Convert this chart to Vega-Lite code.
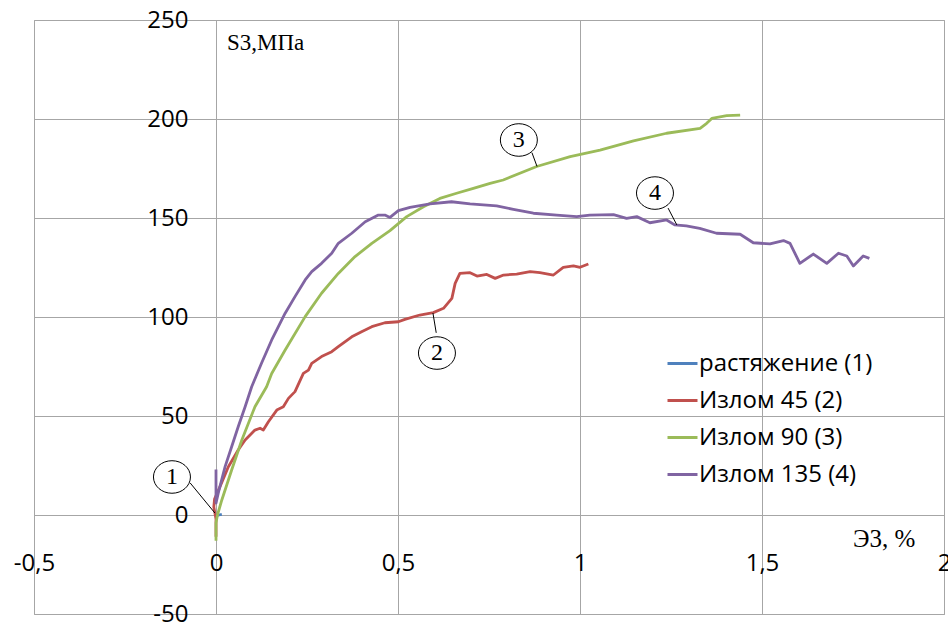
{
  "$schema": "https://vega.github.io/schema/vega-lite/v6.json",
  "width": 910,
  "height": 594,
  "autosize": {"type": "none"},
  "padding": {"left": 34, "top": 20, "right": 4, "bottom": 14},
  "background": "white",
  "config": {
    "view": {"stroke": "#a6a6a6", "strokeWidth": 1},
    "axis": {"gridColor": "#a6a6a6", "gridWidth": 1, "gridOpacity": 1}
  },
  "datasets": {
    "curves": [
      {"s": "растяжение (1)", "x": 0, "y": 0},
      {"s": "растяжение (1)", "x": 0.008, "y": 0},
      {"s": "растяжение (1)", "x": 0.016, "y": 0.3},

      {"s": "Излом 45 (2)", "x": 0, "y": -11},
      {"s": "Излом 45 (2)", "x": 0, "y": -2},
      {"s": "Излом 45 (2)", "x": -0.006, "y": 4},
      {"s": "Излом 45 (2)", "x": -0.004, "y": 8},
      {"s": "Излом 45 (2)", "x": 0.011, "y": 14.3},
      {"s": "Излом 45 (2)", "x": 0.034, "y": 24.4},
      {"s": "Излом 45 (2)", "x": 0.061, "y": 32.8},
      {"s": "Излом 45 (2)", "x": 0.08, "y": 37.9},
      {"s": "Излом 45 (2)", "x": 0.107, "y": 42.9},
      {"s": "Излом 45 (2)", "x": 0.121, "y": 43.8},
      {"s": "Излом 45 (2)", "x": 0.13, "y": 42.9},
      {"s": "Излом 45 (2)", "x": 0.144, "y": 47.1},
      {"s": "Излом 45 (2)", "x": 0.167, "y": 53},
      {"s": "Излом 45 (2)", "x": 0.185, "y": 54.7},
      {"s": "Излом 45 (2)", "x": 0.199, "y": 58.9},
      {"s": "Излом 45 (2)", "x": 0.217, "y": 62.3},
      {"s": "Излом 45 (2)", "x": 0.24, "y": 71.5},
      {"s": "Излом 45 (2)", "x": 0.254, "y": 73.2},
      {"s": "Излом 45 (2)", "x": 0.263, "y": 76.6},
      {"s": "Излом 45 (2)", "x": 0.29, "y": 80},
      {"s": "Излом 45 (2)", "x": 0.318, "y": 82.5},
      {"s": "Излом 45 (2)", "x": 0.336, "y": 85},
      {"s": "Излом 45 (2)", "x": 0.373, "y": 90},
      {"s": "Излом 45 (2)", "x": 0.4, "y": 92.6},
      {"s": "Излом 45 (2)", "x": 0.428, "y": 95.1},
      {"s": "Излом 45 (2)", "x": 0.464, "y": 97.1},
      {"s": "Излом 45 (2)", "x": 0.501, "y": 97.6},
      {"s": "Излом 45 (2)", "x": 0.519, "y": 98.8},
      {"s": "Излом 45 (2)", "x": 0.56, "y": 101},
      {"s": "Излом 45 (2)", "x": 0.597, "y": 102.2},
      {"s": "Излом 45 (2)", "x": 0.625, "y": 104.4},
      {"s": "Излом 45 (2)", "x": 0.648, "y": 109.4},
      {"s": "Излом 45 (2)", "x": 0.657, "y": 117},
      {"s": "Излом 45 (2)", "x": 0.67, "y": 122},
      {"s": "Излом 45 (2)", "x": 0.698, "y": 122.4},
      {"s": "Излом 45 (2)", "x": 0.717, "y": 120.7},
      {"s": "Излом 45 (2)", "x": 0.744, "y": 121.5},
      {"s": "Излом 45 (2)", "x": 0.767, "y": 119.5},
      {"s": "Излом 45 (2)", "x": 0.79, "y": 121.2},
      {"s": "Излом 45 (2)", "x": 0.826, "y": 121.7},
      {"s": "Излом 45 (2)", "x": 0.863, "y": 122.9},
      {"s": "Излом 45 (2)", "x": 0.89, "y": 122.4},
      {"s": "Излом 45 (2)", "x": 0.927, "y": 121.2},
      {"s": "Излом 45 (2)", "x": 0.954, "y": 125.1},
      {"s": "Излом 45 (2)", "x": 0.982, "y": 125.8},
      {"s": "Излом 45 (2)", "x": 1.0, "y": 125.1},
      {"s": "Излом 45 (2)", "x": 1.023, "y": 126.8},

      {"s": "Излом 90 (3)", "x": 0, "y": -13},
      {"s": "Излом 90 (3)", "x": 0, "y": -4},
      {"s": "Излом 90 (3)", "x": 0.004, "y": 0},
      {"s": "Излом 90 (3)", "x": 0.016, "y": 7.6},
      {"s": "Излом 90 (3)", "x": 0.043, "y": 22.7},
      {"s": "Излом 90 (3)", "x": 0.071, "y": 37.9},
      {"s": "Излом 90 (3)", "x": 0.107, "y": 54.7},
      {"s": "Излом 90 (3)", "x": 0.139, "y": 64.8},
      {"s": "Излом 90 (3)", "x": 0.153, "y": 71.5},
      {"s": "Излом 90 (3)", "x": 0.19, "y": 83.3},
      {"s": "Излом 90 (3)", "x": 0.245, "y": 100.2},
      {"s": "Излом 90 (3)", "x": 0.29, "y": 112},
      {"s": "Излом 90 (3)", "x": 0.336, "y": 122},
      {"s": "Излом 90 (3)", "x": 0.382, "y": 130.5},
      {"s": "Излом 90 (3)", "x": 0.428, "y": 137.2},
      {"s": "Излом 90 (3)", "x": 0.478, "y": 143.6},
      {"s": "Излом 90 (3)", "x": 0.524, "y": 150.7},
      {"s": "Излом 90 (3)", "x": 0.57, "y": 155.7},
      {"s": "Излом 90 (3)", "x": 0.615, "y": 159.9},
      {"s": "Излом 90 (3)", "x": 0.661, "y": 162.5},
      {"s": "Излом 90 (3)", "x": 0.707, "y": 165},
      {"s": "Излом 90 (3)", "x": 0.753, "y": 167.5},
      {"s": "Излом 90 (3)", "x": 0.789, "y": 169.2},
      {"s": "Излом 90 (3)", "x": 0.881, "y": 176},
      {"s": "Излом 90 (3)", "x": 0.973, "y": 181},
      {"s": "Излом 90 (3)", "x": 1.055, "y": 184.3},
      {"s": "Излом 90 (3)", "x": 1.147, "y": 189},
      {"s": "Излом 90 (3)", "x": 1.238, "y": 192.8},
      {"s": "Излом 90 (3)", "x": 1.33, "y": 195.3},
      {"s": "Излом 90 (3)", "x": 1.348, "y": 197.8},
      {"s": "Излом 90 (3)", "x": 1.362, "y": 200.3},
      {"s": "Излом 90 (3)", "x": 1.403, "y": 201.7},
      {"s": "Излом 90 (3)", "x": 1.44, "y": 202},

      {"s": "Излом 135 (4)", "x": 0, "y": 23},
      {"s": "Излом 135 (4)", "x": 0, "y": 6},
      {"s": "Излом 135 (4)", "x": 0.006, "y": 10.9},
      {"s": "Излом 135 (4)", "x": 0.025, "y": 24.4},
      {"s": "Излом 135 (4)", "x": 0.043, "y": 34.5},
      {"s": "Излом 135 (4)", "x": 0.061, "y": 44.6},
      {"s": "Излом 135 (4)", "x": 0.08, "y": 54.7},
      {"s": "Излом 135 (4)", "x": 0.098, "y": 64.8},
      {"s": "Излом 135 (4)", "x": 0.125, "y": 76.6},
      {"s": "Излом 135 (4)", "x": 0.153, "y": 88.4},
      {"s": "Излом 135 (4)", "x": 0.19, "y": 101.9},
      {"s": "Излом 135 (4)", "x": 0.217, "y": 110.3},
      {"s": "Излом 135 (4)", "x": 0.245, "y": 118.7},
      {"s": "Излом 135 (4)", "x": 0.263, "y": 122.9},
      {"s": "Излом 135 (4)", "x": 0.29, "y": 127.1},
      {"s": "Излом 135 (4)", "x": 0.318, "y": 132.2},
      {"s": "Излом 135 (4)", "x": 0.336, "y": 137.2},
      {"s": "Излом 135 (4)", "x": 0.373, "y": 142.3},
      {"s": "Излом 135 (4)", "x": 0.41, "y": 148.1},
      {"s": "Излом 135 (4)", "x": 0.446, "y": 151.5},
      {"s": "Излом 135 (4)", "x": 0.464, "y": 151.5},
      {"s": "Излом 135 (4)", "x": 0.478, "y": 150.3},
      {"s": "Излом 135 (4)", "x": 0.501, "y": 153.7},
      {"s": "Излом 135 (4)", "x": 0.533, "y": 155.4},
      {"s": "Излом 135 (4)", "x": 0.588, "y": 157.1},
      {"s": "Излом 135 (4)", "x": 0.647, "y": 158.2},
      {"s": "Излом 135 (4)", "x": 0.698, "y": 157.1},
      {"s": "Излом 135 (4)", "x": 0.771, "y": 156.1},
      {"s": "Излом 135 (4)", "x": 0.817, "y": 154.4},
      {"s": "Излом 135 (4)", "x": 0.872, "y": 152.4},
      {"s": "Излом 135 (4)", "x": 0.936, "y": 151.5},
      {"s": "Излом 135 (4)", "x": 0.991, "y": 150.7},
      {"s": "Излом 135 (4)", "x": 1.027, "y": 151.5},
      {"s": "Излом 135 (4)", "x": 1.092, "y": 151.7},
      {"s": "Излом 135 (4)", "x": 1.128, "y": 149.8},
      {"s": "Излом 135 (4)", "x": 1.156, "y": 150.7},
      {"s": "Излом 135 (4)", "x": 1.192, "y": 147.6},
      {"s": "Излом 135 (4)", "x": 1.238, "y": 149},
      {"s": "Излом 135 (4)", "x": 1.26, "y": 146.5},
      {"s": "Излом 135 (4)", "x": 1.292, "y": 146},
      {"s": "Излом 135 (4)", "x": 1.329, "y": 144.8},
      {"s": "Излом 135 (4)", "x": 1.375, "y": 142.3},
      {"s": "Излом 135 (4)", "x": 1.44, "y": 141.8},
      {"s": "Излом 135 (4)", "x": 1.476, "y": 137.5},
      {"s": "Излом 135 (4)", "x": 1.522, "y": 136.9},
      {"s": "Излом 135 (4)", "x": 1.559, "y": 138.6},
      {"s": "Излом 135 (4)", "x": 1.577, "y": 137.2},
      {"s": "Излом 135 (4)", "x": 1.604, "y": 127.1},
      {"s": "Излом 135 (4)", "x": 1.641, "y": 131.8},
      {"s": "Излом 135 (4)", "x": 1.678, "y": 127.1},
      {"s": "Излом 135 (4)", "x": 1.71, "y": 132.2},
      {"s": "Излом 135 (4)", "x": 1.733, "y": 130.8},
      {"s": "Излом 135 (4)", "x": 1.751, "y": 125.8},
      {"s": "Излом 135 (4)", "x": 1.778, "y": 130.8},
      {"s": "Излом 135 (4)", "x": 1.795, "y": 129.6}
    ],
    "notes": [
      {"n": "1", "x": -0.121, "y": 19.2, "x1": -0.071, "y1": 16.2, "x2": -0.003, "y2": 1},
      {"n": "2", "x": 0.607, "y": 81.8, "x1": 0.605, "y1": 92, "x2": 0.596, "y2": 102},
      {"n": "3", "x": 0.832, "y": 189.4, "x1": 0.868, "y1": 183, "x2": 0.882, "y2": 176},
      {"n": "4", "x": 1.206, "y": 162.6, "x1": 1.242, "y1": 155, "x2": 1.266, "y2": 146.5}
    ],
    "titles": [
      {"t": "S3,МПа", "x": 0.03, "y": 235, "size": "a"},
      {"t": "Э3, %", "x": 1.75, "y": -16, "size": "b"}
    ]
  },
  "layer": [
    {
      "data": {"name": "curves"},
      "mark": {"type": "line", "strokeWidth": 2.8, "strokeJoin": "round"},
      "encoding": {
        "x": {
          "field": "x", "type": "quantitative",
          "scale": {"domain": [-0.5, 2], "nice": false, "zero": false},
          "axis": {
            "orient": "bottom", "offset": -99,
            "values": [-0.5, 0, 0.5, 1, 1.5, 2],
            "domain": false, "ticks": false, "grid": true,
            "labelPadding": 36, "labelFont": "Open Sans", "labelFontSize": 24,
            "labelColor": "#000000", "labelFlush": false, "labelOverlap": false,
            "labelExpr": "replace(replace(format(datum.value, '~g'), '.', ','), '\u2212', '-')",
            "title": null
          }
        },
        "y": {
          "field": "y", "type": "quantitative",
          "scale": {"domain": [-50, 250], "nice": false, "zero": false},
          "axis": {
            "orient": "left", "offset": -182,
            "values": [-50, 0, 50, 100, 150, 200, 250],
            "domain": false, "ticks": false, "grid": true,
            "labelPadding": 28, "labelFont": "Open Sans", "labelFontSize": 24,
            "labelColor": "#000000", "labelFlush": false, "labelOverlap": false,
            "labelExpr": "replace(datum.label, '\u2212', '-')",
            "title": null
          }
        },
        "color": {
          "field": "s", "type": "nominal",
          "scale": {
            "domain": ["растяжение (1)", "Излом 45 (2)", "Излом 90 (3)", "Излом 135 (4)"],
            "range": ["#4F81BD", "#C0504D", "#9BBB59", "#8064A2"]
          },
          "legend": {
            "orient": "none", "legendX": 632, "legendY": 327,
            "title": null, "padding": 0,
            "symbolType": "stroke", "symbolSize": 900, "symbolStrokeWidth": 3,
            "labelFont": "Open Sans", "labelFontSize": 24, "labelColor": "#000000",
            "labelOffset": 0, "rowPadding": 8, "labelLimit": 400
          }
        },
        "order": {"value": null}
      }
    },
    {
      "data": {"name": "notes"},
      "mark": {"type": "rule", "color": "#000000", "strokeWidth": 1},
      "encoding": {
        "x": {"field": "x1", "type": "quantitative"},
        "y": {"field": "y1", "type": "quantitative"},
        "x2": {"field": "x2"},
        "y2": {"field": "y2"}
      }
    },
    {
      "data": {"name": "notes"},
      "mark": {
        "type": "point", "filled": false, "stroke": "#000000", "strokeWidth": 1, "opacity": 1,
        "shape": "M-1,0A1,0.88,0,1,1,1,0A1,0.88,0,1,1,-1,0Z", "size": 1369
      },
      "encoding": {
        "x": {"field": "x", "type": "quantitative"},
        "y": {"field": "y", "type": "quantitative"}
      }
    },
    {
      "data": {"name": "notes"},
      "mark": {"type": "text", "font": "Liberation Serif", "fontSize": 24, "color": "#000000", "align": "center", "baseline": "middle"},
      "encoding": {
        "x": {"field": "x", "type": "quantitative"},
        "y": {"field": "y", "type": "quantitative"},
        "text": {"field": "n"}
      }
    },
    {
      "data": {"name": "titles"},
      "mark": {"type": "text", "font": "Liberation Serif", "color": "#000000", "align": "left", "baseline": "alphabetic"},
      "encoding": {
        "x": {"field": "x", "type": "quantitative"},
        "y": {"field": "y", "type": "quantitative"},
        "text": {"field": "t"},
        "size": {"field": "size", "type": "nominal", "scale": {"domain": ["a", "b"], "range": [23, 25]}, "legend": null}
      }
    }
  ]
}
